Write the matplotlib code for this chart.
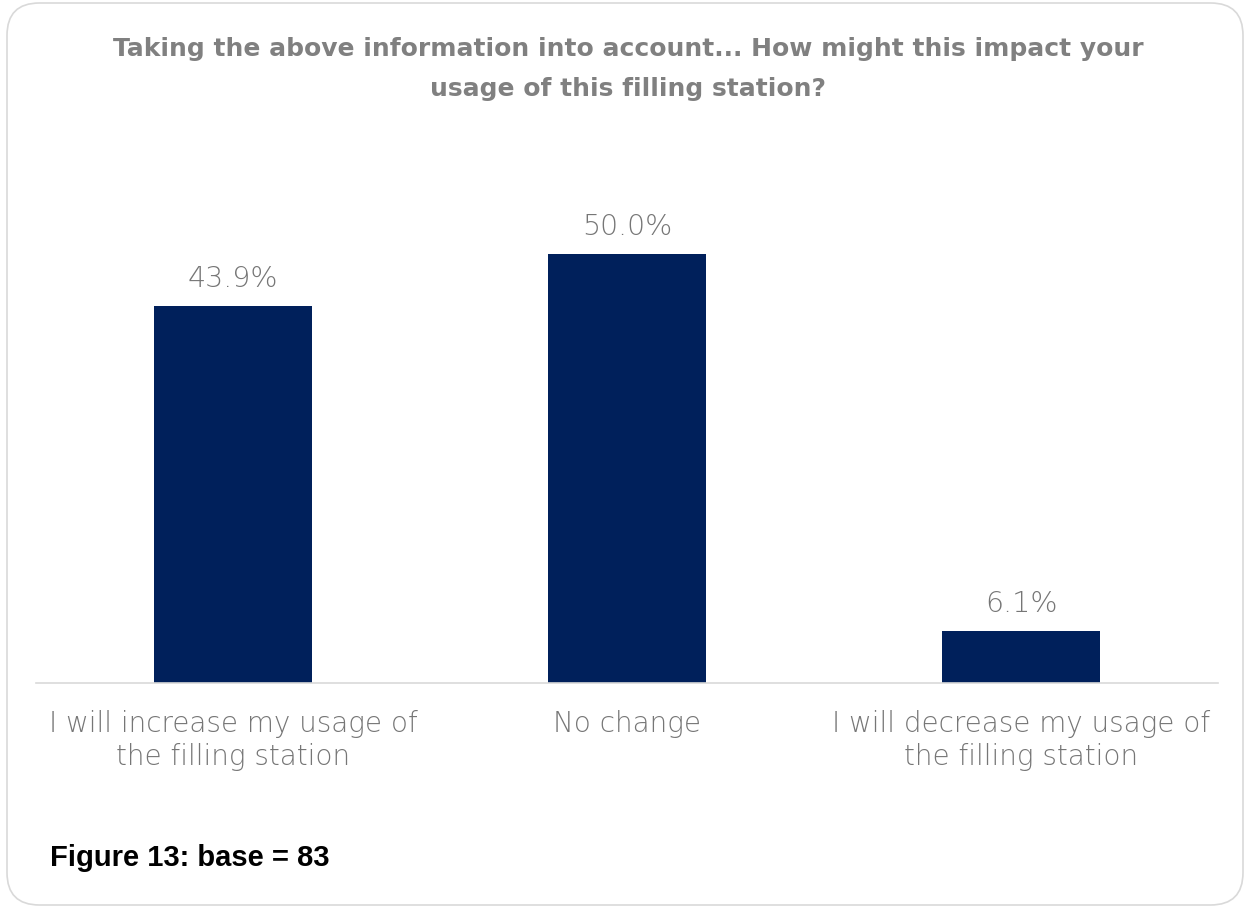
"""Bar chart: expected change in filling-station usage (Figure 13)."""

import matplotlib.pyplot as plt
from matplotlib.patches import FancyBboxPatch

categories = [
    "I will increase my usage of\nthe filling station",
    "No change",
    "I will decrease my usage of\nthe filling station",
]
shares = [43.9, 50.0, 6.1]
title = ("Taking the above information into account... How might this impact your\n"
         "usage of this filling station?")
caption = "Figure 13: base = 83"

BAR = "#00205b"
GREY = "#808080"
LABEL_GREY = "#767676"
W, H = 1246, 912


def main() -> None:
    fig = plt.figure(figsize=(W / 100, H / 100), dpi=100)

    # rounded card outline
    card = FancyBboxPatch(
        (7 / W, 6 / H), 1236 / W, 902 / H,
        boxstyle="round,pad=0,rounding_size=0.026",
        transform=fig.transFigure, facecolor="none",
        edgecolor="#d9d9d9", linewidth=1.2, mutation_aspect=W / H,
        zorder=-1,
    )
    fig.patches.append(card)

    ymax = 60
    px_per_unit = 8.58
    bottom_px, left_px, right_px = 684, 36, 1218
    top_px = bottom_px - ymax * px_per_unit
    ax = fig.add_axes([
        left_px / W, 1 - bottom_px / H,
        (right_px - left_px) / W, (bottom_px - top_px) / H,
    ])
    ax.set_facecolor("none")

    x = range(len(categories))
    bars = ax.bar(x, shares, width=0.4, color=BAR)
    for rect, v in zip(bars, shares):
        ax.annotate(f"{v:.1f}%", (rect.get_x() + rect.get_width() / 2, v),
                    xytext=(0, 10), textcoords="offset points",
                    ha="center", va="bottom", fontsize=20.5, color=LABEL_GREY,
                    family="DejaVu Sans", fontweight="light")

    ax.set_xlim(-0.5, len(categories) - 0.5)
    ax.set_ylim(0, ymax)
    ax.set_xticks(list(x))
    ax.set_xticklabels(categories, fontsize=20, color=LABEL_GREY,
                       family="DejaVu Sans", fontweight="light",
                       linespacing=1.2)
    ax.tick_params(axis="x", length=0, pad=19)
    ax.set_yticks([])
    for side in ("top", "left", "right"):
        ax.spines[side].set_visible(False)
    ax.spines["bottom"].set_color("#d9d9d9")
    ax.spines["bottom"].set_linewidth(1.2)

    fig.text(628 / W, 1 - 69 / H, title, ha="center", va="center",
             fontsize=18, fontweight="bold", color=GREY,
             family="DejaVu Sans", linespacing=1.85)
    fig.text(50 / W, 1 - 858 / H, caption, ha="left", va="center",
             fontsize=21, fontweight="bold", color="black",
             family="Liberation Sans")

    fig.savefig("out.png", dpi=100)
    plt.close(fig)


if __name__ == "__main__":
    main()
